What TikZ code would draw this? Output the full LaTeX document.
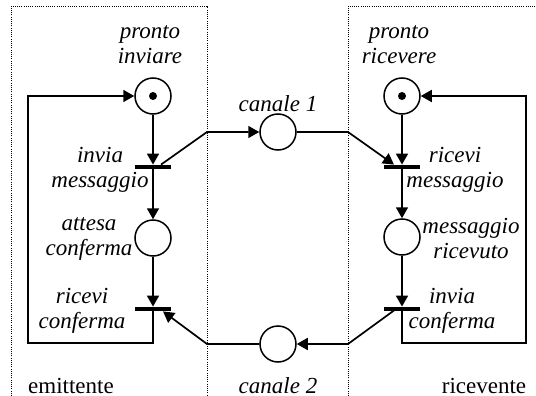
\documentclass[tikz,border=0pt]{standalone}
\usepackage{fontspec}
\setmainfont{Liberation Serif}
\usetikzlibrary{arrows.meta}

\begin{document}
\begin{tikzpicture}[x=0.5pt,y=-0.5pt,
	every node/.style={font=\fontsize{11.5}{12.5}\selectfont},
	place/.style={circle,draw,line width=0.75pt,minimum size=18pt,inner sep=0pt},
	token/.style={circle,fill,minimum size=4pt,inner sep=0pt},
	bar/.style={rectangle,fill,minimum width=18pt,minimum height=2pt,inner sep=0pt},
	lab/.style={align=center,font=\fontsize{11.5}{12.5}\selectfont\itshape,inner sep=0pt},
	arc/.style={line width=0.85pt,-{Triangle[length=5.5pt,width=6pt]}},
	zone/.style={line width=0.5pt,dash pattern=on 0.5pt off 0.6pt}]
	\useasboundingbox (0,0) rectangle (536,396);
	\draw[zone] (11,396) |- (207,6) -- (207,396);
	\draw[zone] (348,396) |- (536,6);
	\node[place] (pi) at (153,96) {};
	\node[token] at (pi) {};
	\node[bar] (im) at (153,167) {};
	\node[place] (ac) at (153,238) {};
	\node[bar] (rc) at (153,309) {};
	\node[place] (pr) at (402,96) {};
	\node[token] at (pr) {};
	\node[bar] (rm) at (402,167) {};
	\node[place] (mr) at (402,237) {};
	\node[bar] (ic) at (402,309) {};
	\node[place] (ch1) at (278,132) {};
	\node[place] (ch2) at (278,344) {};
	\coordinate (l1) at (28,343);
	\coordinate (r1) at (526,343);
	\coordinate (a1) at (207,132);
	\coordinate (a2) at (348,132);
	\coordinate (b1) at (348,344);
	\coordinate (b2) at (207,344);
	\node[lab] (tpi) at (150,45) {pronto\\inviare};
	\node[lab] (tim) at (100,170) {invia\\messaggio};
	\node[lab] (tac) at (89,239) {attesa\\conferma};
	\node[lab] (trc) at (82,311) {ricevi\\conferma};
	\node[lab] (tpr) at (399,45) {pronto\\ricevere};
	\node[lab] (trm) at (455,170) {ricevi\\messaggio};
	\node[lab] (tmr) at (471,239) {messaggio\\ricevuto};
	\node[lab] (tic) at (452,311) {invia\\conferma};
	\node[lab] (tch1) at (278,104) {canale 1};
	\node[lab] (tch2) at (278,386) {canale 2};
	\node (em) at (71,386) {emittente};
	\node (ri) at (484,386) {ricevente};
	\draw[arc] (pi) -- (im);
	\draw[arc] (im) -- (ac);
	\draw[arc] (ac) -- (rc);
	\draw[arc] (rc.center) |- (l1) |- (pi);
	\draw[arc] (pr) -- (rm);
	\draw[arc] (rm) -- (mr);
	\draw[arc] (mr) -- (ic);
	\draw[arc] (ic.center) |- (r1) |- (pr);
	\draw[arc] ([xshift=4pt]im.north) -- (a1) -- (ch1);
	\draw[arc] (ch1) -- (a2) -- ([xshift=-4pt]rm.north);
	\draw[arc] ([xshift=-3pt]ic.center) -- (b1) -- (ch2);
	\draw[arc] (ch2) -- (b2) -- ([xshift=5pt]rc.south);
\end{tikzpicture}
\end{document}
